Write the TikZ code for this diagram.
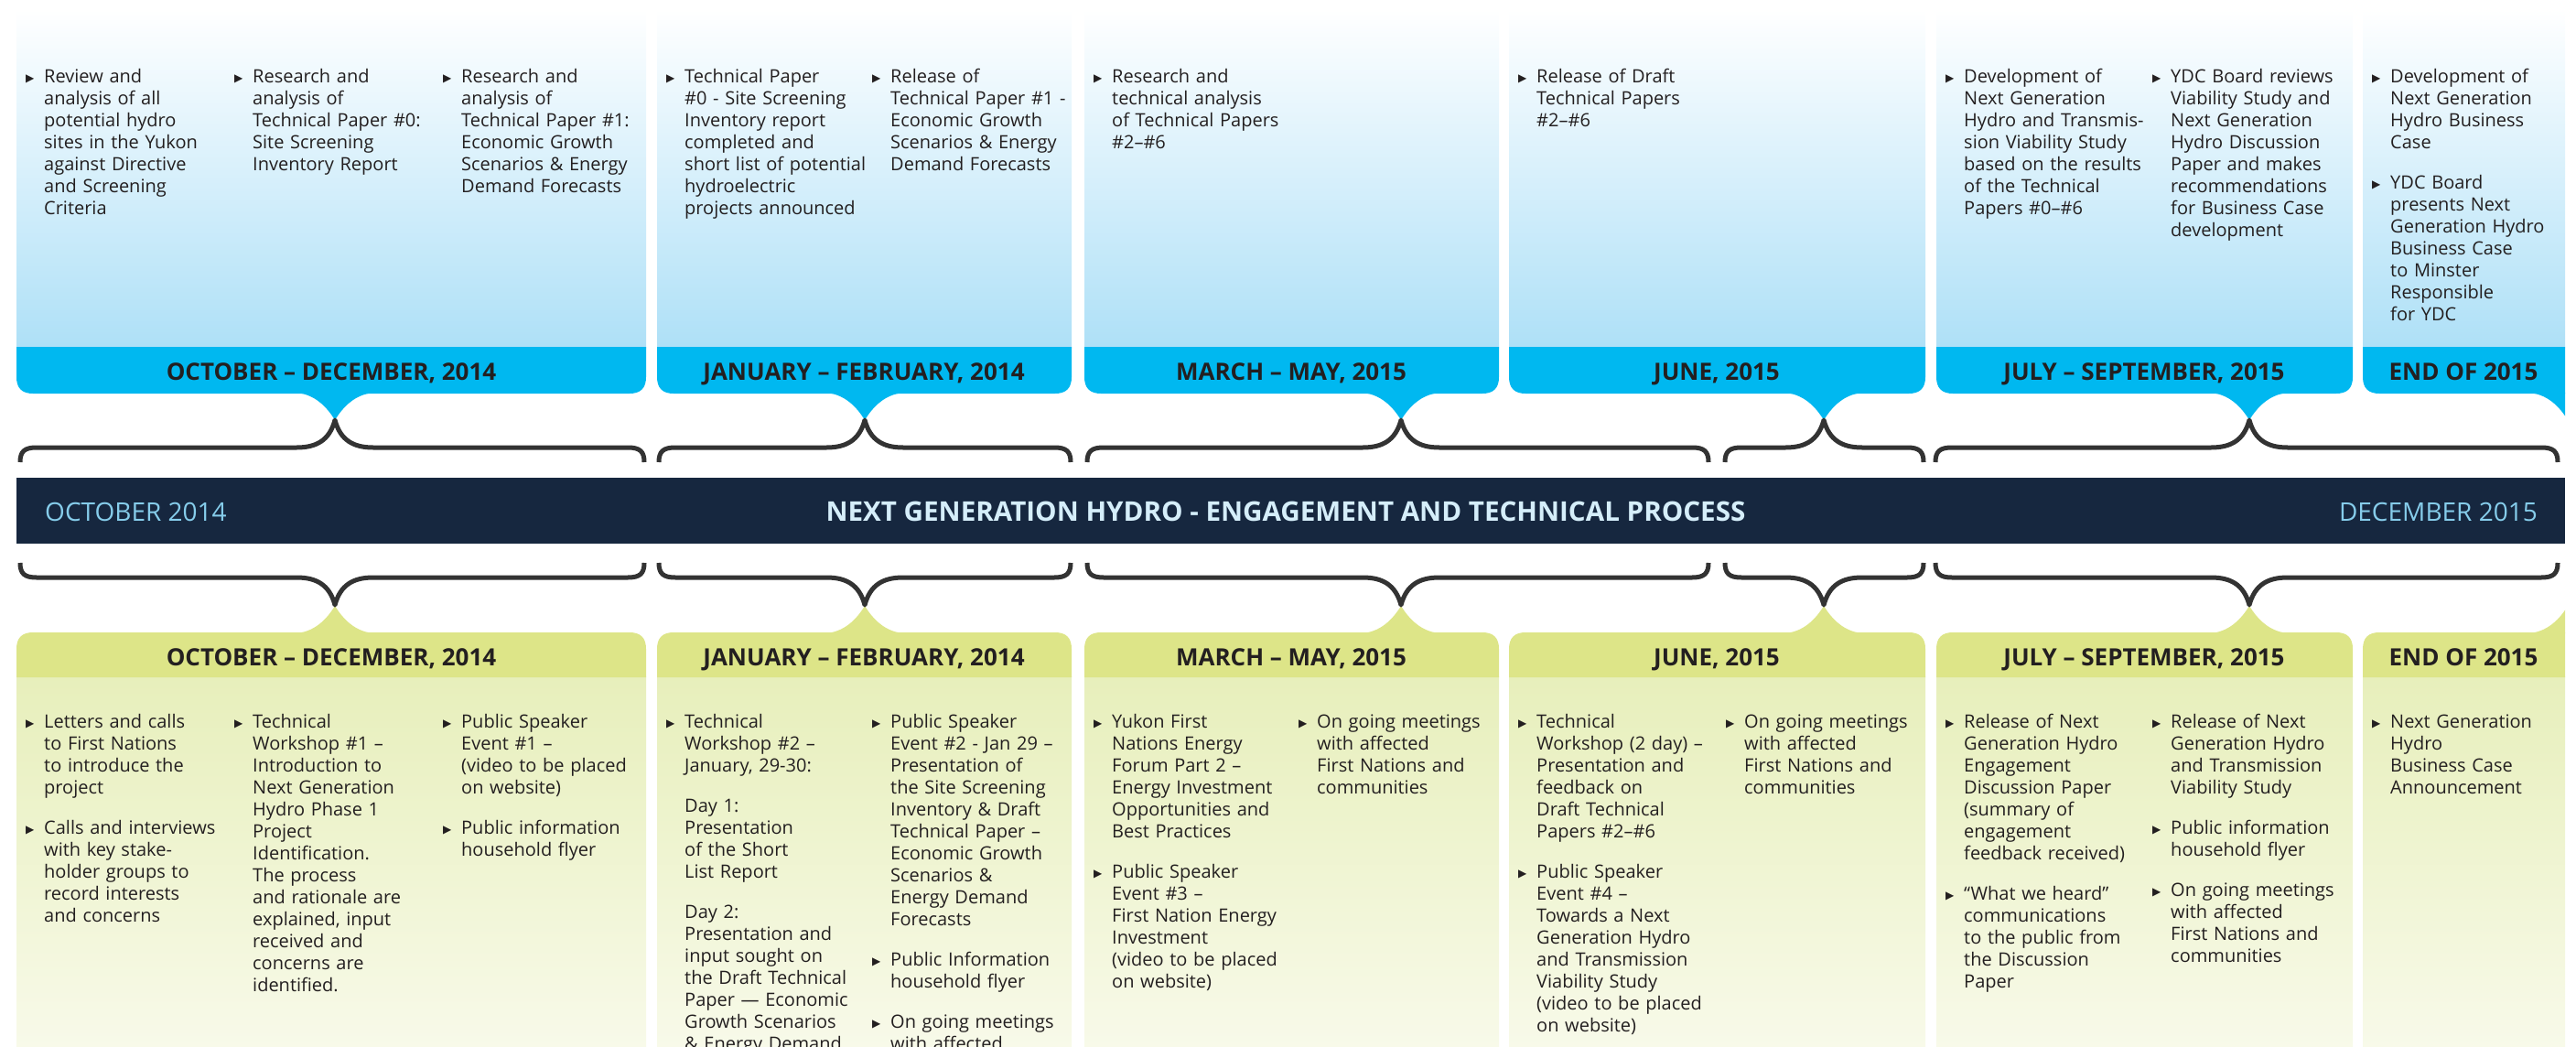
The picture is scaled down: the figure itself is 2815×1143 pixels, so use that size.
\documentclass[tikz,border=0pt]{standalone}
\usepackage{fontspec}
\setmainfont{Open Sans}
\newfontfamily\symfont{DejaVu Sans}

\definecolor{skytop}{HTML}{AEE0F7}
\definecolor{skyband}{HTML}{00B8F0}
\definecolor{navy}{HTML}{16273F}
\definecolor{bandlabel}{HTML}{86CDEB}
\definecolor{bandtitle}{HTML}{D5EEFA}
\definecolor{limeband}{HTML}{DDE588}
\definecolor{limetop}{HTML}{E7EFBB}
\definecolor{limelow}{HTML}{F8FAEA}
\definecolor{ink}{HTML}{231F20}
\definecolor{bracegray}{HTML}{333333}

% bullet item, plain indented paragraph, gap between items
\newcommand{\bul}[1]{{\let\\\newline\noindent\hangindent=20pt\hangafter=1\makebox[20pt][l]{\raisebox{1pt}{\symfont\fontsize{12}{12}\selectfont ▶}}#1\par}}
\newcommand{\cnt}[1]{{\let\\\newline\noindent\hangindent=20pt\hangafter=0 #1\par}}
\newcommand{\nxt}{\vspace{20pt}}

\begin{document}
\begin{tikzpicture}[x=1pt,y=-1pt,
    txt/.style={anchor=base west, inner sep=0pt, text width=260pt, align=left, text=ink, font=\fontsize{20}{24}\selectfont},
    hdr/.style={anchor=base, inner sep=0pt, text=ink, font=\bfseries\fontsize{26}{26}\selectfont},
    brace/.style={line width=5pt, draw=bracegray, line join=round}]

\useasboundingbox (0,0) rectangle (2815,1143);
\clip (0,0) rectangle (2803,1143);

% Blue box on top: #1 left, #2 right, #3 pointer
\newcommand{\topbox}[3]{
    \shade[top color=white, bottom color=skytop] (#1,10) rectangle (#2,380);
    \fill[skyband] (#1,379) -- (#1,412) .. controls (#1,424) and (#1+6,430) .. (#1+18,430)
        -- (#2-18,430) .. controls (#2-6,430) and (#2,424) .. (#2,412) -- (#2,379) -- cycle;
    \fill[skyband] (#3-46,429) .. controls (#3-22,429) and (#3-8,446) .. (#3,459)
        .. controls (#3+8,446) and (#3+22,429) .. (#3+46,429) -- cycle;
}

% Green box below: #1 left, #2 right, #3 pointer
\newcommand{\lowbox}[3]{
    \shade[top color=limetop, bottom color=limelow] (#1,739) rectangle (#2,1150);
    \fill[limeband] (#1,740) -- (#1,709) .. controls (#1,697) and (#1+6,691) .. (#1+18,691)
        -- (#2-18,691) .. controls (#2-6,691) and (#2,697) .. (#2,709) -- (#2,740) -- cycle;
    \fill[limeband] (#3-46,692) .. controls (#3-22,692) and (#3-8,675) .. (#3,662)
        .. controls (#3+8,675) and (#3+22,692) .. (#3+46,692) -- cycle;
}

% Pair of braces above and below the band: #1 left end, #2 tip, #3 right end
\newcommand{\drawbrace}[3]{
    \draw[brace] (#1,505) .. controls (#1,493) and (#1+5,489) .. (#1+18,489) -- (#2-42,489)
        .. controls (#2-20,489) and (#2-6,481) .. (#2,459)
        .. controls (#2+6,481) and (#2+20,489) .. (#2+42,489) -- (#3-18,489)
        .. controls (#3-5,489) and (#3,493) .. (#3,505);
    \draw[brace] (#1,615) .. controls (#1,627) and (#1+5,631) .. (#1+18,631) -- (#2-42,631)
        .. controls (#2-20,631) and (#2-6,639) .. (#2,661)
        .. controls (#2+6,639) and (#2+20,631) .. (#2+42,631) -- (#3-18,631)
        .. controls (#3-5,631) and (#3,627) .. (#3,615);
}

% Boxes
\topbox{18}{706}{366}
\topbox{718}{1171}{945}
\topbox{1185}{1638}{1531}
\topbox{1649}{2104}{1993}
\topbox{2116}{2571}{2458}
\topbox{2582}{2900}{2806}

\lowbox{18}{706}{366}
\lowbox{718}{1171}{945}
\lowbox{1185}{1638}{1531}
\lowbox{1649}{2104}{1993}
\lowbox{2116}{2571}{2458}
\lowbox{2582}{2900}{2806}

% Braces
\drawbrace{22}{366}{704}
\drawbrace{720}{945}{1170}
\drawbrace{1188}{1531}{1867}
\drawbrace{1885}{1993}{2102}
\drawbrace{2115}{2458}{2795}

% Timeline band
\fill[navy] (18,522) rectangle (2803,594);
\node[anchor=base west, inner sep=0pt, text=bandlabel, font=\fontsize{28}{28}\selectfont] (start) at (49,569) {OCTOBER 2014};
\node[anchor=base, inner sep=0pt, text=bandtitle, font=\bfseries\fontsize{29.6}{30}\selectfont] (title) at (1405,569) {NEXT GENERATION HYDRO - ENGAGEMENT AND TECHNICAL PROCESS};
\node[anchor=base east, inner sep=0pt, text=bandlabel, font=\fontsize{28}{28}\selectfont] (finish) at (2773,569) {DECEMBER 2015};

% Period headers
\node[hdr] (th1) at (362,415) {OCTOBER – DECEMBER, 2014};
\node[hdr] (th2) at (944,415) {JANUARY – FEBRUARY, 2014};
\node[hdr] (th3) at (1411,415) {MARCH – MAY, 2015};
\node[hdr] (th4) at (1876,415) {JUNE, 2015};
\node[hdr] (th5) at (2343,415) {JULY – SEPTEMBER, 2015};
\node[hdr] (th6) at (2692,415) {END OF 2015};

\node[hdr] (bh1) at (362,727) {OCTOBER – DECEMBER, 2014};
\node[hdr] (bh2) at (944,727) {JANUARY – FEBRUARY, 2014};
\node[hdr] (bh3) at (1411,727) {MARCH – MAY, 2015};
\node[hdr] (bh4) at (1876,727) {JUNE, 2015};
\node[hdr] (bh5) at (2343,727) {JULY – SEPTEMBER, 2015};
\node[hdr] (bh6) at (2692,727) {END OF 2015};

% Technical process (top)
\node[txt] (t1a) at (28,90) {\bul{Review and\\analysis of all\\potential hydro\\sites in the Yukon\\against Directive\\and Screening\\Criteria}};
\node[txt] (t1b) at (256,90) {\bul{Research and\\analysis of\\Technical Paper \#0:\\Site Screening\\Inventory Report}};
\node[txt] (t1c) at (484,90) {\bul{Research and\\analysis of\\Technical Paper \#1:\\Economic Growth\\Scenarios \& Energy\\Demand Forecasts}};
\node[txt] (t2a) at (728,90) {\bul{Technical Paper\\\#0 - Site Screening\\Inventory report\\completed and\\short list of potential\\hydroelectric\\projects announced}};
\node[txt] (t2b) at (953,90) {\bul{Release of\\Technical Paper \#1 -\\Economic Growth\\Scenarios \& Energy\\Demand Forecasts}};
\node[txt] (t3a) at (1195,90) {\bul{Research and\\technical analysis\\of Technical Papers\\\#2–\#6}};
\node[txt] (t4a) at (1659,90) {\bul{Release of Draft\\Technical Papers\\\#2–\#6}};
\node[txt] (t5a) at (2126,90) {\bul{Development of\\Next Generation\\Hydro and Transmis-\\sion Viability Study\\based on the results\\of the Technical\\Papers \#0–\#6}};
\node[txt] (t5b) at (2352,90) {\bul{YDC Board reviews\\Viability Study and\\Next Generation\\Hydro Discussion\\Paper and makes\\recommendations\\for Business Case\\development}};
\node[txt] (t6a) at (2592,90) {\bul{Development of\\Next Generation\\Hydro Business\\Case}\nxt
    \bul{YDC Board\\presents Next\\Generation Hydro\\Business Case\\to Minster\\Responsible\\for YDC}};

% Engagement (bottom)
\node[txt] (b1a) at (28,795) {\bul{Letters and calls\\to First Nations\\to introduce the\\project}\nxt
    \bul{Calls and interviews\\with key stake-\\holder groups to\\record interests\\and concerns}};
\node[txt] (b1b) at (256,795) {\bul{Technical\\Workshop \#1 –\\Introduction to\\Next Generation\\Hydro Phase 1\\Project\\Identification.\\The process\\and rationale are\\explained, input\\received and\\concerns are\\identified.}};
\node[txt] (b1c) at (484,795) {\bul{Public Speaker\\Event \#1 –\\(video to be placed\\on website)}\nxt
    \bul{Public information\\household flyer}};
\node[txt] (b2a) at (728,795) {\bul{Technical\\Workshop \#2 –\\January, 29-30:}\nxt
    \cnt{Day 1:\\Presentation\\of the Short\\List Report}\nxt
    \cnt{Day 2:\\Presentation and\\input sought on\\the Draft Technical\\Paper — Economic\\Growth Scenarios\\\& Energy Demand}};
\node[txt] (b2b) at (953,795) {\bul{Public Speaker\\Event \#2 - Jan 29 –\\Presentation of\\the Site Screening\\Inventory \& Draft\\Technical Paper –\\Economic Growth\\Scenarios \&\\Energy Demand\\Forecasts}\nxt
    \bul{Public Information\\household flyer}\nxt
    \bul{On going meetings\\with affected}};
\node[txt] (b3a) at (1195,795) {\bul{Yukon First\\Nations Energy\\Forum Part 2 –\\Energy Investment\\Opportunities and\\Best Practices}\nxt
    \bul{Public Speaker\\Event \#3 –\\First Nation Energy\\Investment\\(video to be placed\\on website)}};
\node[txt] (b3b) at (1419,795) {\bul{On going meetings\\with affected\\First Nations and\\communities}};
\node[txt] (b4a) at (1659,795) {\bul{Technical\\Workshop (2 day) –\\Presentation and\\feedback on\\Draft Technical\\Papers \#2–\#6}\nxt
    \bul{Public Speaker\\Event \#4 –\\Towards a Next\\Generation Hydro\\and Transmission\\Viability Study\\(video to be placed\\on website)}};
\node[txt] (b4b) at (1886,795) {\bul{On going meetings\\with affected\\First Nations and\\communities}};
\node[txt] (b5a) at (2126,795) {\bul{Release of Next\\Generation Hydro\\Engagement\\Discussion Paper\\(summary of\\engagement\\feedback received)}\nxt
    \bul{“What we heard”\\communications\\to the public from\\the Discussion\\Paper}};
\node[txt] (b5b) at (2352,795) {\bul{Release of Next\\Generation Hydro\\and Transmission\\Viability Study}\nxt
    \bul{Public information\\household flyer}\nxt
    \bul{On going meetings\\with affected\\First Nations and\\communities}};
\node[txt] (b6a) at (2592,795) {\bul{Next Generation\\Hydro\\Business Case\\Announcement}};

\end{tikzpicture}
\end{document}
